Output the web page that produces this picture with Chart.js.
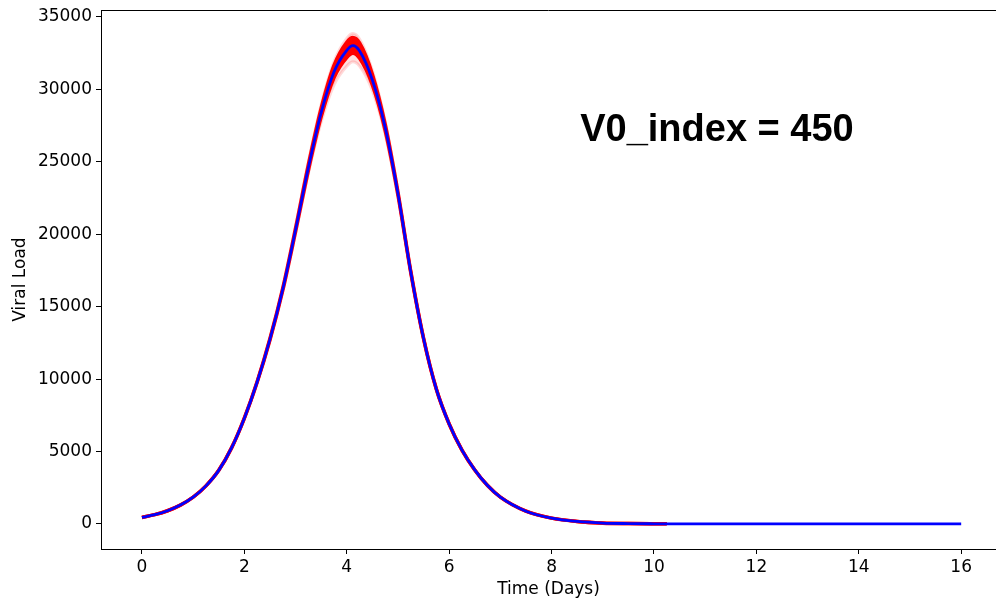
<!DOCTYPE html>
<html>
<head>
<meta charset="utf-8">
<script src="https://cdn.jsdelivr.net/npm/chart.js@4/dist/chart.umd.min.js"></script>
<style>
  html, body { margin: 0; padding: 0; background: #fff; }
  #wrap { width: 996px; height: 603px; position: relative; }
</style>
</head>
<body>
<div id="wrap"><canvas id="c" width="996" height="603"></canvas></div>
<script>
// ---- data ----
const days = [0, 0.25, 0.5, 0.75, 1, 1.25, 1.5, 1.75, 2, 2.25, 2.5, 2.75, 3, 3.25, 3.5, 3.75, 4, 4.12, 4.25, 4.5, 4.75, 5, 5.25, 5.5, 5.75, 6, 6.25, 6.5, 6.75, 7, 7.5, 8, 8.5, 9, 9.5, 10, 10.25, 11, 12, 13, 14, 15, 16];

const meanLoad = [450, 640, 910, 1300, 1850, 2630, 3700, 5250, 7300, 9800, 12750, 16200, 20300, 24600, 28400, 31200, 32700, 33020, 32650, 30650, 27380, 22800, 17400, 12800, 9300, 6900, 5100, 3730, 2650, 1850, 880, 400, 170, 60, 25, 10, 6, 3, 1, 0, 0, 0, 0];

const simHigh = [450, 640, 910, 1300, 1850, 2630, 3700, 5250, 7320, 9830, 12800, 16280, 20420, 24800, 28700, 31650, 33250, 33580, 33200, 31050, 27600, 22900, 17450, 12820, 9310, 6900, 5100, 3730, 2650, 1850, 880, 400, 175, 65, 28, 12, 8, null, null, null, null, null, null];

const simLow = [450, 640, 910, 1300, 1850, 2630, 3700, 5250, 7290, 9780, 12700, 16120, 20180, 24400, 28100, 30800, 32200, 32500, 32150, 30300, 27150, 22700, 17350, 12780, 9290, 6900, 5100, 3730, 2650, 1850, 880, 400, 165, 55, 22, 8, 5, null, null, null, null, null, null];

const simMax = [450, 640, 910, 1300, 1850, 2630, 3700, 5250, 7330, 9850, 12850, 16350, 20550, 25000, 28950, 31900, 33520, 33850, 33480, 31300, 27800, 23000, 17500, 12850, 9320, 6900, 5100, 3730, 2650, 1850, 880, 400, 175, 65, 28, 12, 8, null, null, null, null, null, null];

const simMin = [450, 640, 910, 1300, 1850, 2630, 3700, 5250, 7280, 9760, 12650, 16050, 20050, 24200, 27750, 30300, 31600, 31900, 31600, 29900, 26900, 22550, 17300, 12750, 9280, 6900, 5100, 3730, 2650, 1850, 880, 400, 165, 55, 22, 8, 5, null, null, null, null, null, null];

const xTicks = [0, 2, 4, 6, 8, 10, 12, 14, 16];
const yTicks = [0, 5000, 10000, 15000, 20000, 25000, 30000, 35000];
const annotationText = 'V0_index = 450';
const xTitle = 'Time (Days)';
const yTitle = 'Viral Load';

function pts(arr) {
  const out = [];
  for (let i = 0; i < days.length; i++) {
    if (arr[i] !== null) out.push({ x: days[i], y: arr[i] });
  }
  return out;
}

const tickFont = { family: 'DejaVu Sans', size: 17 };

const topSpine = {
  id: 'topSpine',
  afterDraw(chart) {
    const { ctx, chartArea } = chart;
    ctx.save();
    ctx.strokeStyle = '#000';
    ctx.lineWidth = 1;
    ctx.beginPath();
    ctx.moveTo(chartArea.left, chartArea.top + 0.5);
    ctx.lineTo(chart.width, chartArea.top + 0.5);
    ctx.stroke();
    const xs = chart.scales.x, ys = chart.scales.y;
    ctx.fillStyle = '#000';
    ctx.font = 'bold 38px "Liberation Sans", Arial, sans-serif';
    ctx.textAlign = 'center';
    ctx.textBaseline = 'alphabetic';
    ctx.fillText(annotationText, xs.getPixelForValue(11.23), ys.getPixelForValue(26470));
    ctx.restore();
  }
};

new Chart(document.getElementById('c'), {
  type: 'line',
  data: {
    datasets: [
      { data: pts(meanLoad), order: 0, borderColor: 'rgb(0,0,255)', borderWidth: 2.8, fill: false, pointRadius: 0, cubicInterpolationMode: 'monotone' },
      { data: pts(simHigh), order: 1, borderColor: 'rgb(255,0,0)', borderWidth: 3.5, backgroundColor: 'rgb(255,0,0)', fill: '+1', pointRadius: 0, cubicInterpolationMode: 'monotone' },
      { data: pts(simLow), order: 2, borderColor: 'rgb(255,0,0)', borderWidth: 3.5, fill: false, pointRadius: 0, cubicInterpolationMode: 'monotone' },
      { data: pts(simMax), order: 3, borderColor: 'rgba(255,0,0,0.15)', borderWidth: 3, backgroundColor: 'rgba(255,0,0,0.12)', fill: '+1', pointRadius: 0, cubicInterpolationMode: 'monotone' },
      { data: pts(simMin), order: 4, borderColor: 'rgba(255,0,0,0.15)', borderWidth: 3, fill: false, pointRadius: 0, cubicInterpolationMode: 'monotone' }
    ]
  },
  plugins: [topSpine],
  options: {
    responsive: false,
    animation: false,
    layout: { padding: { top: 10, right: 0, left: 0, bottom: 0 } },
    plugins: { legend: { display: false }, tooltip: { enabled: false } },
    scales: {
      x: {
        type: 'linear',
        min: -0.8,
        max: 16.68,
        afterBuildTicks: (axis) => { axis.ticks = xTicks.map(v => ({ value: v })); },
        afterFit: (axis) => { axis.height = 54; axis.paddingLeft = 0; axis.paddingRight = 0; },
        grid: { display: true, drawOnChartArea: false, drawTicks: true, tickLength: 5, color: '#000', tickWidth: 1 },
        border: { display: true, color: '#000', width: 1 },
        ticks: { color: '#000', font: tickFont, padding: 3, maxRotation: 0, autoSkip: false, callback: (v) => String(v) },
        title: { display: true, text: xTitle, color: '#000', font: tickFont, padding: { top: 0, bottom: 3 } }
      },
      y: {
        type: 'linear',
        min: -1730,
        max: 35480,
        afterBuildTicks: (axis) => { axis.ticks = yTicks.map(v => ({ value: v })); },
        afterFit: (axis) => { axis.width = 101; axis.paddingTop = 0; axis.paddingBottom = 0; },
        grid: { display: true, drawOnChartArea: false, drawTicks: true, tickLength: 5, color: '#000', tickWidth: 1 },
        border: { display: true, color: '#000', width: 1 },
        ticks: { color: '#000', font: tickFont, padding: 4, autoSkip: false, callback: (v) => String(v) },
        title: { display: true, text: yTitle, color: '#000', font: tickFont, padding: { top: 10, bottom: 0 } }
      }
    }
  }
});
</script>
</body>
</html>
